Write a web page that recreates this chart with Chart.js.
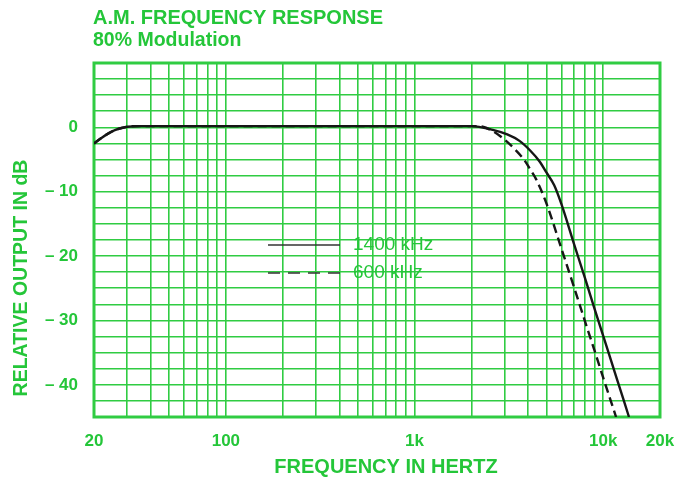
<!DOCTYPE html>
<html>
<head>
<meta charset="utf-8">
<script src="https://cdn.jsdelivr.net/npm/chart.js@4.4.1/dist/chart.umd.min.js"></script>
<style>
  html, body { margin: 0; padding: 0; background: #fff; }
  canvas { display: block; }
</style>
</head>
<body>
<canvas id="chart" width="678" height="483"></canvas>
<script>
// 1400 kHz carrier (solid line)
const freq1400 = [20, 22, 24, 26, 28, 30, 35, 50, 100, 1000, 2000, 2600, 3100, 3600, 4100, 4600, 5000, 5500, 6000, 7000, 8000, 9000, 10000, 11000, 12000, 13000, 13700];
const db1400 = [-2.5, -1.6, -0.9, -0.4, -0.1, 0.1, 0.2, 0.2, 0.2, 0.2, 0.2, -0.4, -1.1, -2.1, -3.6, -5.3, -7.0, -9.0, -11.9, -18.1, -23.4, -28.2, -32.4, -36.2, -39.7, -42.9, -45];

// 600 kHz carrier (dashed line)
const freq600 = [20, 22, 24, 26, 28, 30, 35, 50, 100, 1000, 2000, 2300, 2600, 3000, 3400, 3800, 4100, 4400, 5000, 6000, 7000, 8000, 9000, 10000, 11000, 11700];
const db600 = [-2.5, -1.6, -0.9, -0.4, -0.1, 0.1, 0.2, 0.2, 0.2, 0.2, 0.2, 0.1, -0.6, -1.9, -3.4, -5.0, -6.5, -8.0, -11.8, -18.8, -24.8, -30.1, -34.7, -38.9, -42.6, -45];

// log grid: 1..9 per decade
const xTicks = [20, 30, 40, 50, 60, 70, 80, 90, 100, 200, 300, 400, 500, 600, 700, 800, 900,
  1000, 2000, 3000, 4000, 5000, 6000, 7000, 8000, 9000, 10000, 20000];
const xTickLabels = { 20: "20", 100: "100", 1000: "1k", 10000: "10k", 20000: "20k" };
const yTickLabels = { 0: "0", "-10": "\u2013 10", "-20": "\u2013 20", "-30": "\u2013 30", "-40": "\u2013 40" };

const GREEN = "#24c639";
const GRID = "#30cc42";
const FONT = "'Liberation Sans', Arial, sans-serif";

const toPoints = (xs, ys) => xs.map((x, i) => ({ x: x, y: ys[i] }));

// frame, titles and the little key inside the plot
const decorPlugin = {
  id: "decor",
  beforeDatasetsDraw(chart) {
    const { ctx, chartArea: a } = chart;
    ctx.save();
    ctx.strokeStyle = GRID;
    ctx.lineWidth = 3;
    ctx.strokeRect(a.left, a.top, a.right - a.left, a.bottom - a.top);
    ctx.restore();
  },
  afterDraw(chart) {
    const { ctx, chartArea: a } = chart;
    ctx.save();
    ctx.fillStyle = GREEN;
    ctx.textAlign = "left";
    ctx.textBaseline = "alphabetic";
    ctx.font = "bold 20px " + FONT;
    ctx.fillText("A.M. FREQUENCY RESPONSE", 93, 24);
    ctx.font = "bold 19.5px " + FONT;
    ctx.fillText("80% Modulation", 93, 46);

    // axis titles
    ctx.font = "bold 20px " + FONT;
    ctx.textAlign = "center";
    ctx.textBaseline = "middle";
    ctx.fillText("FREQUENCY IN HERTZ", 386, 467);
    ctx.font = "bold 19.5px " + FONT;
    ctx.translate(22, 278);
    ctx.rotate(-Math.PI / 2);
    ctx.fillText("RELATIVE OUTPUT IN dB", 0, 0);
    ctx.restore();

    // key
    ctx.save();
    const kx = a.left + 174, kw = 72;
    const ky1 = a.top + 182, ky2 = a.top + 210;
    ctx.strokeStyle = "#333";
    ctx.lineWidth = 1.5;
    ctx.beginPath();
    ctx.moveTo(kx, ky1);
    ctx.lineTo(kx + kw, ky1);
    ctx.stroke();
    ctx.setLineDash([12, 8]);
    ctx.beginPath();
    ctx.moveTo(kx, ky2);
    ctx.lineTo(kx + kw, ky2);
    ctx.stroke();
    ctx.setLineDash([]);
    ctx.fillStyle = GREEN;
    ctx.font = "19px " + FONT;
    ctx.textAlign = "left";
    ctx.textBaseline = "middle";
    ctx.fillText("1400 kHz", kx + kw + 13, ky1);
    ctx.fillText("600 kHz", kx + kw + 13, ky2);
    ctx.restore();
  }
};

new Chart(document.getElementById("chart"), {
  type: "line",
  data: {
    datasets: [
      {
        label: "1400 kHz",
        data: toPoints(freq1400, db1400),
        borderColor: "#161616",
        borderWidth: 2.4,
        pointRadius: 0,
        cubicInterpolationMode: "monotone"
      },
      {
        label: "600 kHz",
        data: toPoints(freq600, db600),
        borderColor: "#161616",
        borderWidth: 2.4,
        borderDash: [9, 5],
        pointRadius: 0,
        cubicInterpolationMode: "monotone"
      }
    ]
  },
  options: {
    responsive: false,
    animation: false,
    layout: { padding: { top: 63, right: 18, bottom: 0, left: 0 } },
    plugins: { legend: { display: false }, tooltip: { enabled: false } },
    scales: {
      x: {
        type: "logarithmic",
        min: 20,
        max: 20000,
        afterBuildTicks: (scale) => { scale.ticks = xTicks.map((v) => ({ value: v })); },
        afterFit: (scale) => {
          scale.height = 66;
          scale.paddingLeft = 0;
          scale.paddingRight = 0;
        },
        grid: { color: GRID, lineWidth: 1.6, drawTicks: false },
        border: { display: false },
        ticks: {
          autoSkip: false,
          maxRotation: 0,
          padding: 14,
          color: GREEN,
          font: { family: FONT, size: 17, weight: "bold" },
          callback: (v) => xTickLabels[v] || ""
        }
      },
      y: {
        min: -45,
        max: 10,
        afterFit: (scale) => { scale.width = 94; },
        grid: { color: GRID, lineWidth: 1.6, drawTicks: false },
        border: { display: false },
        ticks: {
          stepSize: 2.5,
          autoSkip: false,
          padding: 16,
          color: GREEN,
          font: { family: FONT, size: 17, weight: "bold" },
          callback: (v) => yTickLabels[v] || ""
        }
      }
    }
  },
  plugins: [decorPlugin]
});
</script>
</body>
</html>
